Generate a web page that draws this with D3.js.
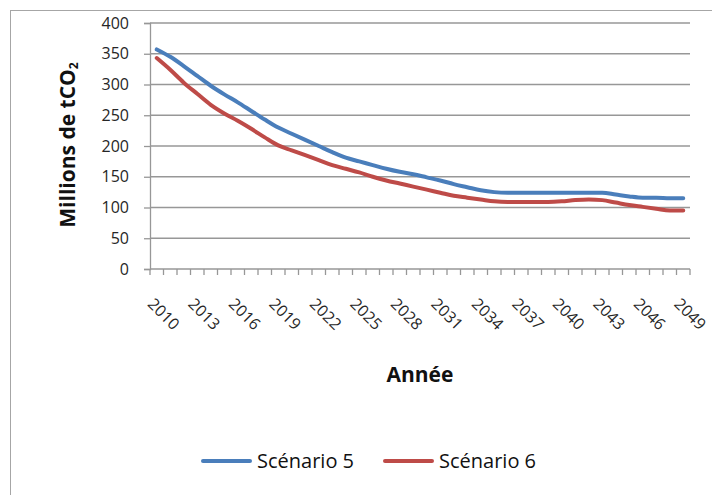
<!DOCTYPE html>
<html>
<head>
<meta charset="utf-8">
<script src="https://cdn.jsdelivr.net/npm/d3@7"></script>
<style>
  html, body { margin: 0; padding: 0; background: #fff; }
  svg { display: block; font-family: "Open Sans", sans-serif; }
</style>
</head>
<body>
<svg id="chart" width="712" height="495"></svg>
<script>
// Annual emissions, millions of tCO2
const years = d3.range(2010, 2050);
const scenario5 = [357, 345, 330, 314, 298, 284, 271, 257, 243, 230,
                   220, 210, 200, 190, 181, 175, 169, 163, 158, 154,
                   149, 144, 138, 133, 128, 125, 124, 124, 124, 124,
                   124, 124, 124, 124, 121, 118, 116, 116, 115, 115];
const scenario6 = [343, 324, 303, 285, 267, 253, 241, 228, 214, 201,
                   193, 185, 177, 169, 163, 157, 150, 144, 139, 134,
                   129, 124, 119, 116, 113, 110, 109, 109, 109, 109,
                   110, 112, 113, 112, 108, 104, 101, 98, 95, 95];
const yTicks = [0, 50, 100, 150, 200, 250, 300, 350, 400];
const xLabelYears = d3.range(2010, 2050, 3);
const seriesNames = ["Scénario 5", "Scénario 6"];
const seriesColors = ["#4A7EBB", "#BE4B48"];

const svg = d3.select("#chart");
const gridColor = "#979797";

// chart frame
svg.append("rect")
  .attr("x", 10.5).attr("y", 10.5)
  .attr("width", 800).attr("height", 600)
  .attr("fill", "none").attr("stroke", "#a6a6a6").attr("stroke-width", 1);

const plot = { left: 150, right: 690, top: 23, bottom: 269 };

const x = d3.scaleBand().domain(years).range([plot.left, plot.right]).padding(0);
const y = d3.scaleLinear().domain([0, 400]).range([plot.bottom, plot.top]);

// horizontal gridlines
svg.append("g")
  .selectAll("line")
  .data(yTicks.filter(d => d > 0))
  .join("line")
  .attr("x1", plot.left).attr("x2", plot.right)
  .attr("y1", d => y(d)).attr("y2", d => y(d))
  .attr("stroke", gridColor).attr("stroke-width", 1.3);

// y axis
const yAxis = svg.append("g")
  .attr("transform", `translate(${plot.left},0)`)
  .call(d3.axisLeft(y).tickValues(yTicks).tickSize(6).tickPadding(15));
yAxis.select(".domain").attr("stroke", gridColor).attr("stroke-width", 1.3);
yAxis.selectAll(".tick line").attr("stroke", gridColor).attr("stroke-width", 1.3);
yAxis.selectAll(".tick text")
  .attr("font-family", "Open Sans").attr("font-size", 16).attr("fill", "#262626");

// x axis: ticks at category boundaries
const xAxisG = svg.append("g");
xAxisG.append("line")
  .attr("x1", plot.left).attr("x2", plot.right)
  .attr("y1", plot.bottom).attr("y2", plot.bottom)
  .attr("stroke", gridColor).attr("stroke-width", 1.3);
xAxisG.selectAll("line.tk")
  .data(years.concat([years[years.length - 1] + 1]))
  .join("line")
  .attr("class", "tk")
  .attr("x1", (d, i) => i < years.length ? x(d) : plot.right)
  .attr("x2", (d, i) => i < years.length ? x(d) : plot.right)
  .attr("y1", plot.bottom).attr("y2", plot.bottom + 6)
  .attr("stroke", gridColor).attr("stroke-width", 1.3);

// rotated year labels
xAxisG.selectAll("text")
  .data(xLabelYears)
  .join("text")
  .attr("transform", d => `translate(${x(d) + x.bandwidth() / 2 - 10},305) rotate(45)`)
  .attr("font-size", 16).attr("fill", "#262626")
  .text(d => d);

// axis titles
svg.append("text")
  .attr("transform", "translate(75,145) rotate(-90)")
  .attr("text-anchor", "middle")
  .attr("font-size", 21).attr("font-weight", "bold").attr("fill", "#111")
  .call(t => {
    t.append("tspan").text("Millions de tCO");
    t.append("tspan").attr("font-size", 12).attr("dy", 3).text("2");
  });

svg.append("text")
  .attr("x", 420).attr("y", 382)
  .attr("text-anchor", "middle")
  .attr("font-size", 21).attr("font-weight", "bold").attr("fill", "#111")
  .text("Année");

// series lines
const line = d3.line()
  .x((d, i) => x(years[i]) + x.bandwidth() / 2)
  .y(d => y(d))
  .curve(d3.curveMonotoneX);

[scenario5, scenario6].forEach((vals, k) => {
  svg.append("path")
    .datum(vals)
    .attr("d", line)
    .attr("fill", "none")
    .attr("stroke", seriesColors[k])
    .attr("stroke-width", 4)
    .attr("stroke-linejoin", "round")
    .attr("stroke-linecap", "round");
});

// legend
const legend = svg.append("g").attr("transform", "translate(203,461)");
const legendOffsets = [0, 182];
seriesNames.forEach((name, k) => {
  const g = legend.append("g").attr("transform", `translate(${legendOffsets[k]},0)`);
  g.append("line")
    .attr("x1", 0).attr("x2", 47).attr("y1", 0).attr("y2", 0)
    .attr("stroke", seriesColors[k]).attr("stroke-width", 4)
    .attr("stroke-linecap", "round");
  g.append("text")
    .attr("x", 54).attr("y", 7)
    .attr("font-size", 20).attr("fill", "#111")
    .text(name);
});
</script>
</body>
</html>
